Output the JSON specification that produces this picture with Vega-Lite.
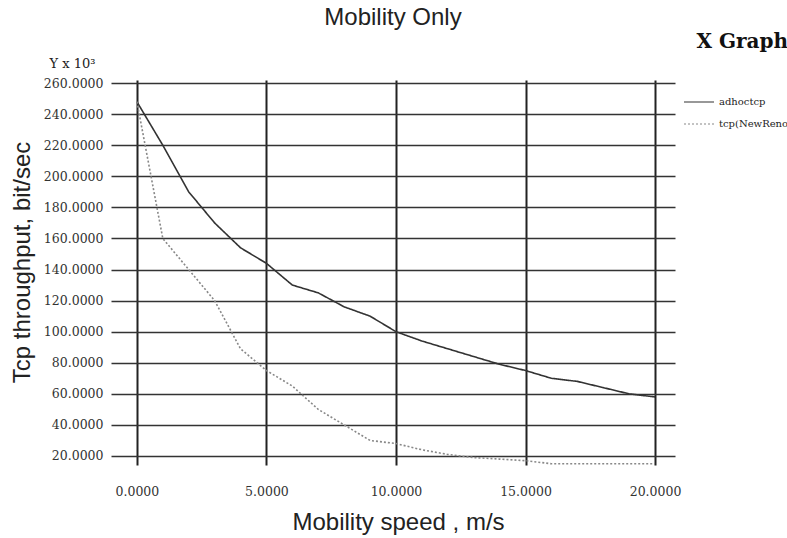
{
  "$schema": "https://vega.github.io/schema/vega-lite/v6.json",
  "width": 564,
  "height": 385,
  "autosize": {"type": "none"},
  "padding": {"left": 111, "top": 80, "right": 112, "bottom": 73},
  "background": "white",
  "title": {"text": "Mobility Only", "font": "Liberation Sans", "fontSize": 24, "fontWeight": "normal", "color": "#222", "offset": 2, "anchor": "middle"},
  "config": {"view": {"stroke": null}},
  "datasets": {
    "tp": [
      {"speed": 0, "kbps": 248, "series": "adhoctcp"},
      {"speed": 1, "kbps": 220, "series": "adhoctcp"},
      {"speed": 2, "kbps": 190, "series": "adhoctcp"},
      {"speed": 3, "kbps": 170, "series": "adhoctcp"},
      {"speed": 4, "kbps": 154, "series": "adhoctcp"},
      {"speed": 5, "kbps": 144, "series": "adhoctcp"},
      {"speed": 6, "kbps": 130, "series": "adhoctcp"},
      {"speed": 7, "kbps": 125, "series": "adhoctcp"},
      {"speed": 8, "kbps": 116, "series": "adhoctcp"},
      {"speed": 9, "kbps": 110, "series": "adhoctcp"},
      {"speed": 10, "kbps": 100, "series": "adhoctcp"},
      {"speed": 11, "kbps": 94, "series": "adhoctcp"},
      {"speed": 12, "kbps": 89, "series": "adhoctcp"},
      {"speed": 13, "kbps": 84, "series": "adhoctcp"},
      {"speed": 14, "kbps": 79, "series": "adhoctcp"},
      {"speed": 15, "kbps": 75, "series": "adhoctcp"},
      {"speed": 16, "kbps": 70, "series": "adhoctcp"},
      {"speed": 17, "kbps": 68, "series": "adhoctcp"},
      {"speed": 18, "kbps": 64, "series": "adhoctcp"},
      {"speed": 19, "kbps": 60, "series": "adhoctcp"},
      {"speed": 20, "kbps": 58, "series": "adhoctcp"},
      {"speed": 0, "kbps": 248, "series": "tcp(NewReno"},
      {"speed": 1, "kbps": 160, "series": "tcp(NewReno"},
      {"speed": 2, "kbps": 140, "series": "tcp(NewReno"},
      {"speed": 3, "kbps": 120, "series": "tcp(NewReno"},
      {"speed": 4, "kbps": 89, "series": "tcp(NewReno"},
      {"speed": 5, "kbps": 75, "series": "tcp(NewReno"},
      {"speed": 6, "kbps": 65, "series": "tcp(NewReno"},
      {"speed": 7, "kbps": 50, "series": "tcp(NewReno"},
      {"speed": 8, "kbps": 40, "series": "tcp(NewReno"},
      {"speed": 9, "kbps": 30, "series": "tcp(NewReno"},
      {"speed": 10, "kbps": 28, "series": "tcp(NewReno"},
      {"speed": 11, "kbps": 24, "series": "tcp(NewReno"},
      {"speed": 12, "kbps": 21, "series": "tcp(NewReno"},
      {"speed": 13, "kbps": 19, "series": "tcp(NewReno"},
      {"speed": 14, "kbps": 18, "series": "tcp(NewReno"},
      {"speed": 15, "kbps": 17, "series": "tcp(NewReno"},
      {"speed": 16, "kbps": 15, "series": "tcp(NewReno"},
      {"speed": 17, "kbps": 15, "series": "tcp(NewReno"},
      {"speed": 18, "kbps": 15, "series": "tcp(NewReno"},
      {"speed": 19, "kbps": 15, "series": "tcp(NewReno"},
      {"speed": 20, "kbps": 15, "series": "tcp(NewReno"}
    ]
  },
  "data": {"name": "tp"},
  "encoding": {
    "x": {
      "field": "speed", "type": "quantitative",
      "scale": {"domain": [-1.0, 20.77], "nice": false, "zero": false},
      "axis": {
        "values": [0, 5, 10, 15, 20], "format": ".4f",
        "domain": false, "ticks": false,
        "grid": true, "gridColor": "#222", "gridWidth": 2,
        "labelFont": "DejaVu Serif", "labelFontSize": 12.5, "labelColor": "#333", "labelPadding": 20,
        "title": "Mobility speed , m/s", "titleFont": "Liberation Sans", "titleFontSize": 24, "titleFontWeight": "normal", "titleColor": "#222",
        "titleX": 287, "titleY": 57, "titleBaseline": "middle", "titleAlign": "center"
      }
    },
    "color": {
      "field": "series", "type": "nominal",
      "scale": {"domain": ["adhoctcp", "tcp(NewReno"], "range": ["#333333", "#888888"]},
      "legend": {
        "title": "X Graph", "orient": "none", "legendX": 572, "legendY": -48,
        "titleFont": "DejaVu Serif", "titleFontSize": 20, "titleFontWeight": "bold", "titleColor": "#111", "titleAnchor": "end", "titlePadding": 34,
        "labelFont": "DejaVu Serif", "labelFontSize": 10, "labelColor": "#222",
        "symbolType": "stroke", "symbolSize": 900, "symbolStrokeWidth": 1.2, "rowPadding": 1
      }
    },
    "strokeDash": {
      "field": "series", "type": "nominal",
      "scale": {"domain": ["adhoctcp", "tcp(NewReno"], "range": [[1, 0], [2, 2]]},
      "legend": null
    }
  },
  "layer": [
    {
      "transform": [{"filter": "datum.series === 'adhoctcp'"}],
      "mark": {"type": "line", "strokeWidth": 1.6},
      "encoding": {
        "y": {
          "field": "kbps", "type": "quantitative",
          "scale": {"domain": [14.2, 262], "nice": false, "zero": false},
          "axis": {
            "values": [20, 40, 60, 80, 100, 120, 140, 160, 180, 200, 220, 240, 260], "format": ".4f",
            "domain": false, "ticks": false,
            "grid": true, "gridColor": "#333", "gridWidth": 1.5,
            "labelFont": "DejaVu Serif", "labelFontSize": 12.5, "labelColor": "#333", "labelPadding": 8,
            "title": "Tcp throughput, bit/sec", "titleFont": "Liberation Sans", "titleFontSize": 24, "titleFontWeight": "normal", "titleColor": "#222",
            "titleX": -89, "titleY": 182, "titleBaseline": "middle", "titleAlign": "center", "titleAngle": -90
          }
        }
      }
    },
    {
      "transform": [{"filter": "datum.series === 'tcp(NewReno'"}],
      "mark": {"type": "line", "strokeWidth": 1.6},
      "encoding": {
        "y": {
          "field": "kbps", "type": "quantitative",
          "axis": {
            "orient": "left", "domain": false, "ticks": false, "labels": false, "grid": false,
            "title": "Y x 10³", "titleFont": "DejaVu Serif", "titleFontSize": 13, "titleFontWeight": "normal", "titleColor": "#222",
            "titleX": -39, "titleY": -17, "titleAngle": 0, "titleAlign": "center", "titleBaseline": "middle"
          }
        }
      }
    }
  ],
  "resolve": {"scale": {"y": "shared"}, "axis": {"y": "independent"}}
}
